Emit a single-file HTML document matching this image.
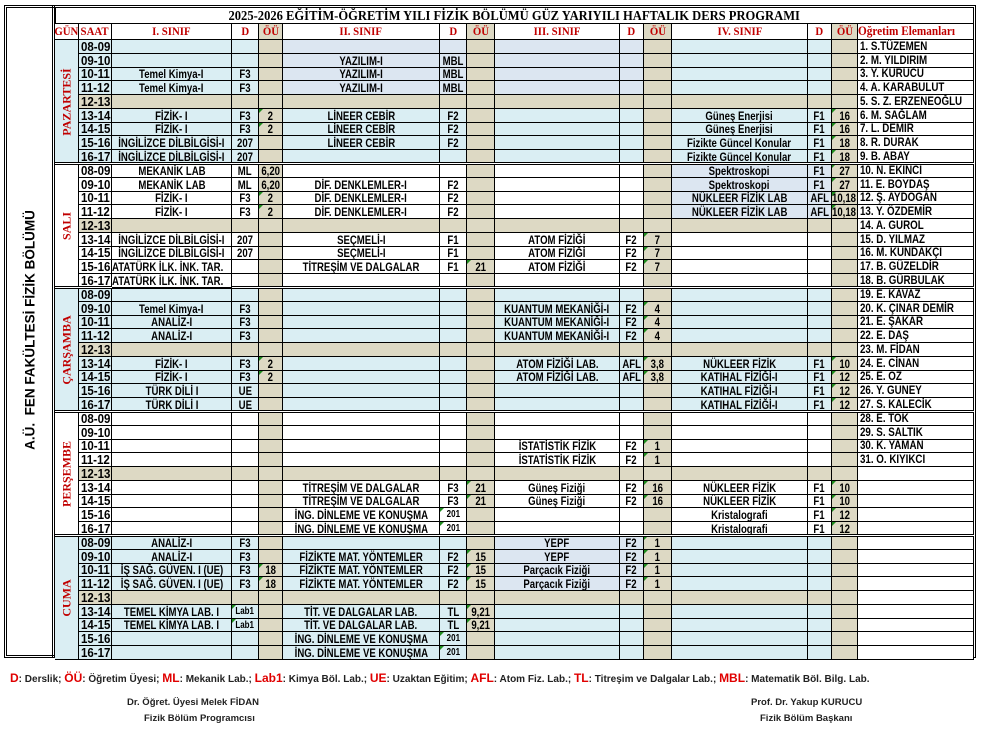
<!DOCTYPE html>
<html><head><meta charset="utf-8">
<style>
body{margin:0;width:982px;height:730px;background:#fff;position:relative;overflow:hidden;font-family:"Liberation Sans",Arial,sans-serif}
.c{position:absolute;box-sizing:border-box;border-right:1px solid #000;border-bottom:1px solid #000;font-weight:bold;font-size:12px;color:#000;display:flex;align-items:center;justify-content:center;white-space:nowrap;overflow:visible}
.c span{display:inline-block;transform:scaleX(0.8)}
.c.l{justify-content:flex-start}
.c.l span{transform-origin:left center}
.h{font-family:"Liberation Serif",serif;color:#c00000;font-size:12px}
.h span{transform:scaleX(0.9)}
.tri{position:absolute;left:0;top:0;width:0;height:0;border-top:4px solid #1e8c1e;border-right:4px solid transparent}
.day{position:absolute;font-family:"Liberation Serif",serif;font-weight:bold;color:#c00000;font-size:12px;transform:rotate(-90deg);white-space:nowrap}
.foot{position:absolute;font-size:10.5px;font-weight:bold;color:#222;white-space:nowrap}
.r{color:#e00000;font-size:12px}
</style></head><body>
<div style="position:absolute;left:4px;top:5px;width:972px;height:653px;border:3px double #000;box-sizing:border-box"></div>
<div style="position:absolute;left:4px;top:5px;width:51px;height:653px;border-right:3px double #000;box-sizing:border-box"></div>
<div style="position:absolute;left:30px;top:330px;transform:translate(-50%,-50%) rotate(-90deg);font-weight:bold;font-size:13.5px;white-space:nowrap">A.Ü.&nbsp; FEN FAKÜLTESİ FİZİK BÖLÜMÜ</div>
<div id="g"></div>
<div class="foot" style="left:10px;top:671px;font-size:10px"><span class="r">D</span>: Derslik; <span class="r">ÖÜ</span>: Öğretim Üyesi; <span class="r">ML</span>: Mekanik Lab.; <span class="r">Lab1</span>: Kimya Böl. Lab.; <span class="r">UE</span>: Uzaktan Eğitim; <span class="r">AFL</span>: Atom Fiz. Lab.; <span class="r">TL</span>: Titreşim ve Dalgalar Lab.; <span class="r">MBL</span>: Matematik Böl. Bilg. Lab.</div>
<div class="foot" style="left:127px;top:697px;font-size:9.5px">Dr. Öğret. Üyesi Melek FİDAN</div>
<div class="foot" style="left:144px;top:713px;font-size:9.5px">Fizik Bölüm Programcısı</div>
<div class="foot" style="left:751px;top:697px;font-size:9.5px">Prof. Dr. Yakup KURUCU</div>
<div class="foot" style="left:760px;top:713px;font-size:9.5px">Fizik Bölüm Başkanı</div>
<script>
const X=[55,79,112,232,259,283,440,467,495,620,644,672,808,832,858,974];
const g=document.getElementById('g');
function cell(x1,x2,y1,y2,txt,bg,cls,tri){
 const d=document.createElement('div');d.className='c '+(cls||'');
 d.style.left=x1+'px';d.style.top=y1+'px';d.style.width=(x2-x1)+'px';d.style.height=(y2-y1)+'px';
 if(bg)d.style.background=bg;
 if(txt)d.innerHTML='<span>'+txt+'</span>';
 if(tri)d.innerHTML+='<div class="tri"></div>';
 g.appendChild(d);return d;}
const tt=cell(55,974,7,24,'2025-2026 EĞİTİM-ÖĞRETİM YILI FİZİK BÖLÜMÜ GÜZ YARIYILI HAFTALIK DERS PROGRAMI','#fff');
tt.style.cssText+=';font-family:"Liberation Serif",serif;font-size:13.5px;border-top:1px solid #000;border-left:1px solid #000';
tt.firstChild.style.transform='scaleX(0.93)';
const H=['GÜN','SAAT','I. SINIF','D','ÖÜ','II. SINIF','D','ÖÜ','III. SINIF','D','ÖÜ','IV. SINIF','D','ÖÜ','Oğretim Elemanları'];
H.forEach((h,i)=>{const d=cell(X[i],X[i+1],24,40,h,(i==4||i==7||i==10||i==13)?'#ddd9c4':'#fff','h');if(i==14){d.style.justifyContent='flex-start';d.firstChild.style.transformOrigin='left';d.style.fontSize='12.5px';}});
const staff=['S.TÜZEMEN','M. YILDIRIM','Y. KURUCU','A. KARABULUT','S. Z. ERZENEOĞLU','M. SAĞLAM','L. DEMİR','R. DURAK','B. ABAY','N. EKİNCİ','E. BOYDAŞ','Ş. AYDOĞAN','Y. ÖZDEMİR','A. GUROL','D. YILMAZ','M. KUNDAKÇI','B. GÜZELDİR','B. GÜRBULAK','E. KAVAZ','K. ÇINAR DEMİR','E. ŞAKAR','E. DAŞ','M. FİDAN','E. CİNAN','E. OZ','Y. GUNEY','S. KALECİK','E. TOK','S. SALTIK','K. YAMAN','O. KIYIKCI'];
const hrs=['08-09','09-10','10-11','11-12','12-13','13-14','14-15','15-16','16-17'];
const E=['','',''];
const TK=['Temel Kimya-I','F3',''],FZ=['FİZİK- I','F3','2'],ING=['İNGİLİZCE DİLBİLGİSİ-I','207',''],YZ=['YAZILIM-I','MBL',''],LC=['LİNEER CEBİR','F2',''];
const days=[
 ['PAZARTESİ',1,[[E,E,E,E],[E,YZ,E,E],[TK,YZ,E,E],[TK,YZ,E,E],null,
  [FZ,LC,E,['Güneş Enerjisi','F1','16']],[FZ,LC,E,['Güneş Enerjisi','F1','16']],[ING,LC,E,['Fizikte Güncel Konular','F1','18']],[ING,E,E,['Fizikte Güncel Konular','F1','18']]]],
 ['SALI',0,[[['MEKANİK LAB','ML','6,20'],E,E,['Spektroskopi','F1','27']],[['MEKANİK LAB','ML','6,20'],['DİF. DENKLEMLER-I','F2',''],E,['Spektroskopi','F1','27']],
  [FZ,['DİF. DENKLEMLER-I','F2',''],E,['NÜKLEER FİZİK LAB','AFL','10,18']],[FZ,['DİF. DENKLEMLER-I','F2',''],E,['NÜKLEER FİZİK LAB','AFL','10,18']],null,
  [ING,['SEÇMELİ-I','F1',''],['ATOM FİZİĞİ','F2','7'],E],[ING,['SEÇMELİ-I','F1',''],['ATOM FİZİĞİ','F2','7'],E],
  [['@ATATÜRK İLK. İNK. TAR.','',''],['TİTREŞİM VE DALGALAR','F1','21'],['ATOM FİZİĞİ','F2','7'],E],[['@ATATÜRK İLK. İNK. TAR.','',''],E,E,E]]],
 ['ÇARŞAMBA',1,[[E,E,E,E],[TK,E,['KUANTUM MEKANİĞİ-I','F2','4'],E],[['ANALİZ-I','F3',''],E,['KUANTUM MEKANİĞİ-I','F2','4'],E],[['ANALİZ-I','F3',''],E,['KUANTUM MEKANİĞİ-I','F2','4'],E],null,
  [FZ,E,['ATOM FİZİĞİ LAB.','AFL','3,8'],['NÜKLEER FİZİK','F1','10']],[FZ,E,['ATOM FİZİĞİ LAB.','AFL','3,8'],['KATIHAL FİZİĞİ-I','F1','12']],
  [['TÜRK DİLİ I','UE',''],E,E,['KATIHAL FİZİĞİ-I','F1','12']],[['TÜRK DİLİ I','UE',''],E,E,['KATIHAL FİZİĞİ-I','F1','12']]]],
 ['PERŞEMBE',0,[[E,E,E,E],[E,E,E,E],[E,E,['İSTATİSTİK FİZİK','F2','1'],E],[E,E,['İSTATİSTİK FİZİK','F2','1'],E],null,
  [E,['TİTREŞİM VE DALGALAR','F3','21'],['Güneş Fiziği','F2','16'],['NÜKLEER FİZİK','F1','10']],[E,['TİTREŞİM VE DALGALAR','F3','21'],['Güneş Fiziği','F2','16'],['NÜKLEER FİZİK','F1','10']],
  [E,['İNG. DİNLEME VE KONUŞMA','201',''],E,['Kristalografi','F1','12']],[E,['İNG. DİNLEME VE KONUŞMA','201',''],E,['Kristalografi','F1','12']]]],
 ['CUMA',1,[[['ANALİZ-I','F3',''],E,['YEPF','F2','1'],E],[['ANALİZ-I','F3',''],['FİZİKTE MAT. YÖNTEMLER','F2','15'],['YEPF','F2','1'],E],
  [['İŞ SAĞ. GÜVEN. I (UE)','F3','18'],['FİZİKTE MAT. YÖNTEMLER','F2','15'],['Parçacık Fiziği','F2','1'],E],[['İŞ SAĞ. GÜVEN. I (UE)','F3','18'],['FİZİKTE MAT. YÖNTEMLER','F2','15'],['Parçacık Fiziği','F2','1'],E],null,
  [['TEMEL KİMYA LAB. I','Lab1',''],['TİT. VE DALGALAR LAB.','TL','9,21'],E,E],[['TEMEL KİMYA LAB. I','Lab1',''],['TİT. VE DALGALAR LAB.','TL','9,21'],E,E],
  [E,['İNG. DİNLEME VE KONUŞMA','201',''],E,E],[E,['İNG. DİNLEME VE KONUŞMA','201',''],E,E]]]
];
const RH=124/9, BLUE='#daeef3', LAV='#dce6f1', TAN='#ddd9c4';
let si=0;
days.forEach((dy,di)=>{
 const y0=40+di*124;
 const dbg=dy[1]?BLUE:'#fff';
 cell(X[0],X[1],y0,y0+124,'',dbg);
 const t=document.createElement('div');t.className='day';t.textContent=dy[0];
 t.style.left='67px';t.style.top=(y0+62)+'px';t.style.transform='translate(-50%,-50%) rotate(-90deg)';g.appendChild(t);
 dy[2].forEach((row,ri)=>{
  const y1=Math.round(y0+ri*RH),y2=Math.round(y0+(ri+1)*RH);
  const tan=row===null;
  const hc=cell(X[1],X[2],y1,y2,hrs[ri],tan?TAN:dbg,'l');hc.firstChild.style.transform='scaleX(0.92)';hc.style.fontSize='12.5px';hc.style.paddingLeft='2px';
  for(let k=0;k<4;k++){
   const v=tan?E:row[k];const b=2+k*3;
   let bg=tan?TAN:dbg;
   if(!tan&&((di==0&&ri<4&&(k==1||k==2))||(di==1&&ri<4&&k==3)||(di==4&&k==2&&ri<4)))bg=LAV;
   let txt=v[0],cls='';
   if(txt.startsWith('@')){txt=txt.slice(1);cls='l';}
   const c1=cell(X[b],X[b+1],y1,y2,txt,bg,cls);
   if(cls)c1.style.zIndex=2;
   const c2=cell(X[b+1],X[b+2],y1,y2,v[1],bg,'',v[1]=='201'||v[1]=='Lab1');
   if(v[1]=='Lab1'||v[1]=='201'){c2.firstChild.style.fontSize='10px';}
   if(cls){c2.style.borderLeft='none';}
   cell(X[b+2],X[b+3],y1,y2,v[2],TAN,'',!!v[2]&&v[2]!='6,20');
  }
  const s=si<31?(si+1)+'. '+staff[si]:'';si++;
  const sc=cell(X[14],X[15],y1,y2,s,'#fff','l');
  if(sc.firstChild&&sc.firstChild.tagName=='SPAN'){sc.firstChild.style.transform='scaleX(0.85)';sc.style.paddingLeft='2px';sc.style.fontSize='11.5px';}
 });
 const sep=document.createElement('div');sep.style.cssText='position:absolute;left:55px;width:919px;height:3px;border-top:1px solid #000;border-bottom:1px solid #000;box-sizing:border-box;background:#fff;top:'+(y0-2)+'px';
 if(di>0)g.appendChild(sep);
});
</script>
</body></html>
